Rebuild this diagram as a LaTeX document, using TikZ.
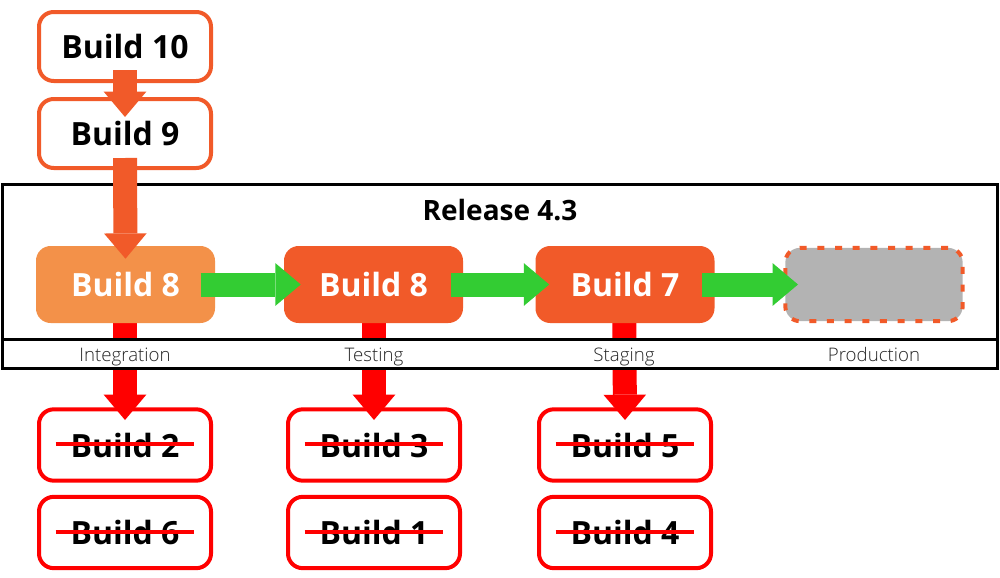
\documentclass[tikz,border=0pt]{standalone}
\usepackage{fontspec}
\setmainfont{Open Sans}
\newfontfamily\stagefont{Open Sans Light}
\usetikzlibrary{arrows.meta}
\definecolor{buildorange}{HTML}{F15A29}
\definecolor{buildlight}{HTML}{F39149}
\definecolor{rejectred}{HTML}{FF0000}
\definecolor{promotegreen}{HTML}{33CC33}
\definecolor{emptygray}{HTML}{B3B3B3}
\tikzstyle{build}=[draw=buildorange, line width=3pt, rounded corners=11pt, minimum width=129pt, minimum height=51.75pt, font=\fontsize{24}{28}\selectfont\bfseries]
\tikzstyle{stage}=[fill=buildorange, rounded corners=11pt, minimum width=134.25pt, minimum height=57.75pt, text=white, font=\fontsize{24}{28}\selectfont\bfseries]
\tikzstyle{empty stage}=[fill=emptygray, draw=buildorange, line width=3pt, dash pattern=on 5.25pt off 8pt, rounded corners=11pt, minimum width=133pt, minimum height=55pt]
\tikzstyle{rejected}=[draw=rejectred, line width=3pt, rounded corners=11pt, minimum width=129pt, minimum height=53.5pt, font=\fontsize{24}{28}\selectfont\bfseries]
\tikzstyle{strike}=[draw=rejectred, line width=3pt]
\tikzstyle{stage label}=[anchor=base, text=black!85, font=\fontsize{14}{16}\stagefont]
\tikzstyle{queue}=[draw=buildorange, line width=18pt, -{Triangle[length=19pt, width=32pt, line width=0pt]}]
\tikzstyle{promote}=[draw=promotegreen, line width=18pt, -{Triangle[length=19pt, width=32pt, line width=0pt]}]
\tikzstyle{discard}=[draw=rejectred, line width=18pt, -{Triangle[length=19pt, width=32pt, line width=0pt]}]

\begin{document}
\begin{tikzpicture}[x=0.75pt, y=-0.75pt]
          \useasboundingbox (0, 0) rectangle (1000, 578);
          \node[build] (build_10) at (125, 46.5) {Build 10};
          \node[build] (build_9) at (125, 133.5) {Build 9};

          \draw[line width=2.25pt] (2.5, 184.5) rectangle (997.5, 368.5);
          \node[font=\fontsize{21}{25}\selectfont\bfseries] (release) at (500, 210) {Release 4.3};

          \node[rejected] (rej_2) at (125, 445) {Build 2};
          \node[rejected] (rej_6) at (125, 532.5) {Build 6};
          \node[rejected] (rej_3) at (374, 445) {Build 3};
          \node[rejected] (rej_1) at (374, 532.5) {Build 1};
          \node[rejected] (rej_5) at (625, 445) {Build 5};
          \node[rejected] (rej_4) at (625, 532.5) {Build 4};
          \foreach \r in {rej_2, rej_6, rej_3, rej_1, rej_5, rej_4}
            \draw[strike] ([xshift=14pt, yshift=0.75pt]\r.west) -- ([xshift=-14pt, yshift=0.75pt]\r.east);

          % discarded builds go down, behind the stage row
          \coordinate (int_c) at (125, 284.5);
          \coordinate (test_c) at (374, 284.5);
          \coordinate (stag_c) at (624, 284.5);
          \draw[discard] (int_c) -- ([yshift=-9.5pt]rej_2.north);
          \draw[discard] (test_c) -- ([yshift=-9.5pt]rej_3.north);
          \draw[discard] (stag_c) -- ([yshift=-9.5pt]rej_5.north);

          \node[stage, fill=buildlight] (integration) at (125.5, 284.5) {Build 8};
          \node[stage] (testing) at (373.5, 284.5) {Build 8};
          \node[stage] (staging) at (625, 284.5) {Build 7};
          \node[empty stage] (production) at (874, 284.5) {};

          \draw[fill=white, line width=2.25pt] (2.5, 339) rectangle (997.5, 368.5);
          \node[stage label] (integration_label) at (125, 361) {Integration};
          \node[stage label] (testing_label) at (374, 361) {Testing};
          \node[stage label] (staging_label) at (624, 361) {Staging};
          \node[stage label] (production_label) at (874, 361) {Production};

          \draw[queue] ([yshift=9.75pt]build_10.south) -- ([yshift=-15pt]build_9.north);
          \draw[queue] ([yshift=9pt]build_9.south) -- ([yshift=-9.75pt]integration.north);

          \draw[promote] ([xshift=-11pt]integration.east) -- ([xshift=12.75pt]testing.west);
          \draw[promote] ([xshift=-9pt]testing.east) -- ([xshift=10.5pt]staging.west);
          \draw[promote] ([xshift=-9.75pt]staging.east) -- ([xshift=11pt]production.west);
        \end{tikzpicture}
\end{document}
